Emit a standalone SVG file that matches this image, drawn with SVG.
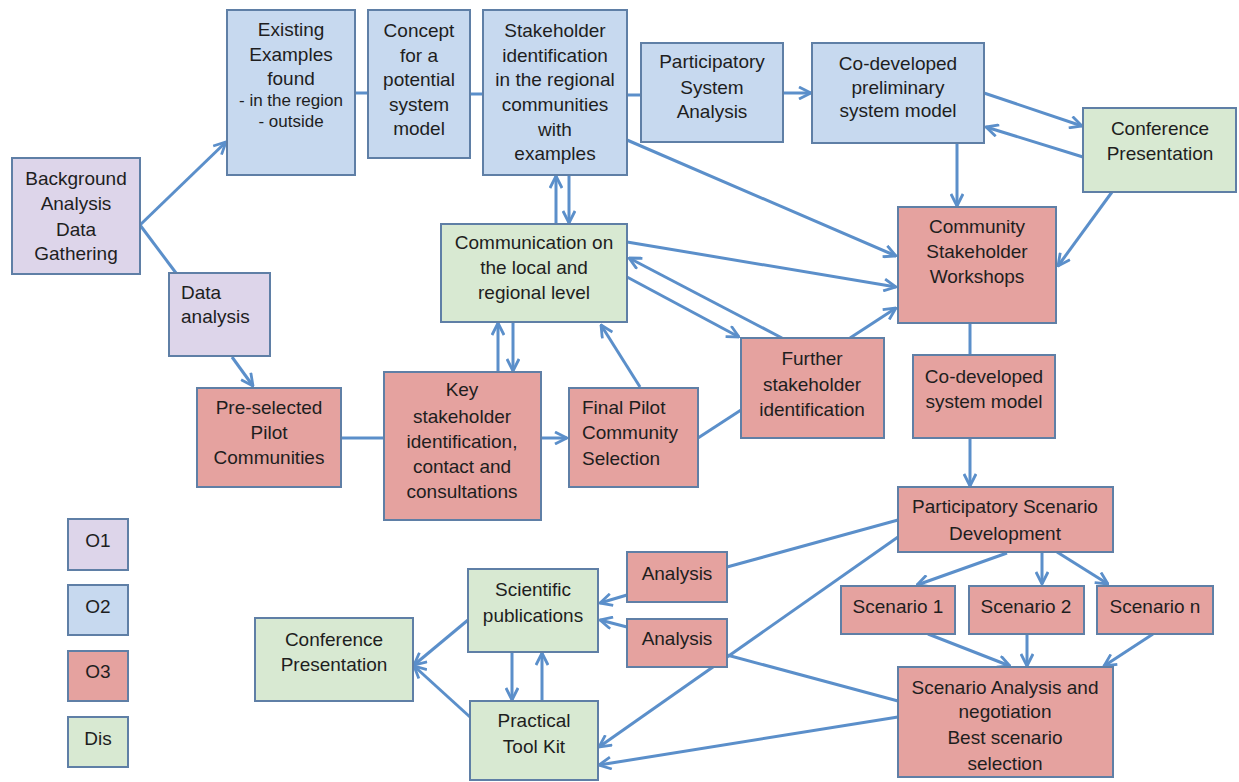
<svg xmlns="http://www.w3.org/2000/svg" width="1239" height="782" viewBox="0 0 1239 782">
<defs>
<marker id="ah" viewBox="0 0 14 14" refX="13" refY="7" markerWidth="14" markerHeight="14" markerUnits="userSpaceOnUse" orient="auto">
<path d="M1,1 L13,7 L1,13" fill="none" stroke="#5b8fca" stroke-width="2.8" stroke-linejoin="miter"/>
</marker>
<style>
.n rect{stroke:#5f7fa6;stroke-width:2}
.p rect{fill:#ddd5ea}
.b rect{fill:#c7d9ef}
.r rect{fill:#e5a29f}
.g rect{fill:#d8e9d2}
text{font-family:"Liberation Sans",Arial,sans-serif;font-size:19px;fill:#1e1e1e;text-anchor:middle}
.s{font-size:17px}
.l{text-anchor:start}
.c line{stroke:#5b8fca;stroke-width:3;fill:none}
.c .a{marker-end:url(#ah)}
</style>
</defs>
<rect width="1239" height="782" fill="#ffffff"/>

<g class="c" id="connectors">
<line class="a" x1="140" y1="225" x2="226" y2="142"/>
<line x1="140" y1="225" x2="176" y2="273"/>
<line x1="355" y1="93" x2="368" y2="93"/>
<line x1="470" y1="94" x2="483" y2="94"/>
<line x1="627" y1="95" x2="641" y2="95"/>
<line class="a" x1="783" y1="93" x2="811" y2="93"/>
<line class="a" x1="984" y1="93" x2="1082" y2="126"/>
<line class="a" x1="1083" y1="157" x2="986" y2="127"/>
<line class="a" x1="957" y1="143" x2="957" y2="206"/>
<line class="a" x1="1112" y1="192" x2="1058" y2="266"/>
<line class="a" x1="627" y1="140" x2="896" y2="256"/>
<line class="a" x1="627" y1="242" x2="896" y2="287"/>
<line class="a" x1="627" y1="277" x2="739" y2="337"/>
<line class="a" x1="782" y1="338" x2="629" y2="258"/>
<line class="a" x1="850" y1="338" x2="896" y2="308"/>
<line class="a" x1="640" y1="387" x2="601" y2="325"/>
<line x1="698" y1="438" x2="741" y2="410"/>
<line class="a" x1="541" y1="438" x2="567" y2="438"/>
<line x1="341" y1="438" x2="384" y2="438"/>
<line class="a" x1="232" y1="357" x2="253" y2="386"/>
<line class="a" x1="498" y1="372" x2="498" y2="323"/>
<line class="a" x1="513" y1="322" x2="513" y2="371"/>
<line class="a" x1="556" y1="224" x2="556" y2="176"/>
<line class="a" x1="569" y1="175" x2="569" y2="223"/>
<line x1="970" y1="323" x2="970" y2="355"/>
<line class="a" x1="970" y1="438" x2="970" y2="486"/>
<line class="a" x1="1007" y1="553" x2="917" y2="585"/>
<line class="a" x1="1042" y1="552" x2="1042" y2="584"/>
<line class="a" x1="1057" y1="552" x2="1108" y2="584"/>
<line class="a" x1="928" y1="634" x2="1010" y2="666"/>
<line class="a" x1="1027" y1="634" x2="1027" y2="666"/>
<line class="a" x1="1153" y1="634" x2="1104" y2="666"/>
<line x1="898" y1="520" x2="727" y2="567"/>
<line class="a" x1="898" y1="537" x2="599" y2="747"/>
<line x1="727" y1="655" x2="898" y2="701"/>
<line class="a" x1="898" y1="717" x2="599" y2="765"/>
<line class="a" x1="627" y1="595" x2="600" y2="603"/>
<line class="a" x1="627" y1="627" x2="600" y2="620"/>
<line class="a" x1="512" y1="652" x2="512" y2="700"/>
<line class="a" x1="542" y1="701" x2="542" y2="653"/>
<line class="a" x1="468" y1="620" x2="414" y2="665"/>
<line class="a" x1="470" y1="717" x2="414" y2="666"/>
</g>

<g id="background" class="n p"><rect x="12" y="158" width="128" height="116"/>
<text x="76" y="185">Background</text><text x="76" y="210">Analysis</text><text x="76" y="236">Data</text><text x="76" y="260">Gathering</text></g>

<g id="existing" class="n b"><rect x="227" y="10" width="128" height="165"/>
<text x="291" y="36">Existing</text><text x="291" y="61">Examples</text><text x="291" y="85">found</text><text class="s" x="291" y="106">- in the region</text><text class="s" x="291" y="127">- outside</text></g>

<g id="concept" class="n b"><rect x="368" y="10" width="102" height="148"/>
<text x="419" y="37">Concept</text><text x="419" y="62">for a</text><text x="419" y="86">potential</text><text x="419" y="111">system</text><text x="419" y="135">model</text></g>

<g id="stakeholder-id" class="n b"><rect x="483" y="10" width="144" height="165"/>
<text x="555" y="37">Stakeholder</text><text x="555" y="62">identification</text><text x="555" y="86">in the regional</text><text x="555" y="111">communities</text><text x="555" y="136">with</text><text x="555" y="160">examples</text></g>

<g id="psa" class="n b"><rect x="641" y="43" width="142" height="99"/>
<text x="712" y="68">Participatory</text><text x="712" y="94">System</text><text x="712" y="118">Analysis</text></g>

<g id="prelim" class="n b"><rect x="812" y="43" width="172" height="100"/>
<text x="898" y="70">Co-developed</text><text x="898" y="94">preliminary</text><text x="898" y="117">system model</text></g>

<g id="conf-top" class="n g"><rect x="1083" y="108" width="153" height="84"/>
<text x="1160" y="135">Conference</text><text x="1160" y="160">Presentation</text></g>

<g id="workshops" class="n r"><rect x="898" y="207" width="158" height="116"/>
<text x="977" y="233">Community</text><text x="977" y="258">Stakeholder</text><text x="977" y="283">Workshops</text></g>

<g id="data-analysis" class="n p"><rect x="169" y="273" width="101" height="83"/>
<text class="l" x="181" y="299">Data</text><text class="l" x="181" y="323">analysis</text></g>

<g id="communication" class="n g"><rect x="441" y="224" width="186" height="98"/>
<text x="534" y="249">Communication on</text><text x="534" y="274">the local and</text><text x="534" y="299">regional level</text></g>

<g id="preselected" class="n r"><rect x="197" y="388" width="144" height="99"/>
<text x="269" y="414">Pre-selected</text><text x="269" y="439">Pilot</text><text x="269" y="464">Communities</text></g>

<g id="key" class="n r"><rect x="384" y="372" width="157" height="148"/>
<text x="462" y="396">Key</text><text x="462" y="423">stakeholder</text><text x="462" y="448">identification,</text><text x="462" y="473">contact and</text><text x="462" y="498">consultations</text></g>

<g id="final-pilot" class="n r"><rect x="569" y="388" width="129" height="99"/>
<text class="l" x="582" y="414">Final Pilot</text><text class="l" x="582" y="439">Community</text><text class="l" x="582" y="465">Selection</text></g>

<g id="further" class="n r"><rect x="741" y="338" width="143" height="100"/>
<text x="812" y="365">Further</text><text x="812" y="391">stakeholder</text><text x="812" y="416">identification</text></g>

<g id="codev-model" class="n r"><rect x="913" y="355" width="142" height="83"/>
<text x="984" y="383">Co-developed</text><text x="984" y="408">system model</text></g>

<g id="psd" class="n r"><rect x="898" y="487" width="215" height="65"/>
<text x="1005" y="513">Participatory Scenario</text><text x="1005" y="540">Development</text></g>

<g id="scen1" class="n r"><rect x="841" y="586" width="114" height="48"/><text x="898" y="613">Scenario 1</text></g>
<g id="scen2" class="n r"><rect x="969" y="586" width="115" height="48"/><text x="1026" y="613">Scenario 2</text></g>
<g id="scenn" class="n r"><rect x="1097" y="586" width="116" height="48"/><text x="1155" y="613">Scenario n</text></g>

<g id="scen-analysis" class="n r"><rect x="898" y="667" width="215" height="110"/>
<text x="1005" y="694">Scenario Analysis and</text><text x="1005" y="718">negotiation</text><text x="1005" y="744">Best scenario</text><text x="1005" y="770">selection</text></g>

<g id="analysis1" class="n r"><rect x="627" y="552" width="100" height="50"/><text x="677" y="580">Analysis</text></g>
<g id="analysis2" class="n r"><rect x="627" y="619" width="100" height="48"/><text x="677" y="645">Analysis</text></g>

<g id="sci-pub" class="n g"><rect x="468" y="569" width="130" height="83"/>
<text x="533" y="596">Scientific</text><text x="533" y="622">publications</text></g>

<g id="toolkit" class="n g"><rect x="470" y="701" width="128" height="79"/>
<text x="534" y="727">Practical</text><text x="534" y="753">Tool Kit</text></g>

<g id="conf-bottom" class="n g"><rect x="255" y="618" width="158" height="83"/>
<text x="334" y="646">Conference</text><text x="334" y="671">Presentation</text></g>

<g id="legend">
<g id="leg-o1" class="n p"><rect x="68" y="519" width="60" height="51"/><text x="98" y="547">O1</text></g>
<g id="leg-o2" class="n b"><rect x="68" y="585" width="60" height="50"/><text x="98" y="613">O2</text></g>
<g id="leg-o3" class="n r"><rect x="68" y="651" width="60" height="50"/><text x="98" y="678">O3</text></g>
<g id="leg-dis" class="n g"><rect x="68" y="717" width="60" height="50"/><text x="98" y="745">Dis</text></g>
</g>
</svg>
